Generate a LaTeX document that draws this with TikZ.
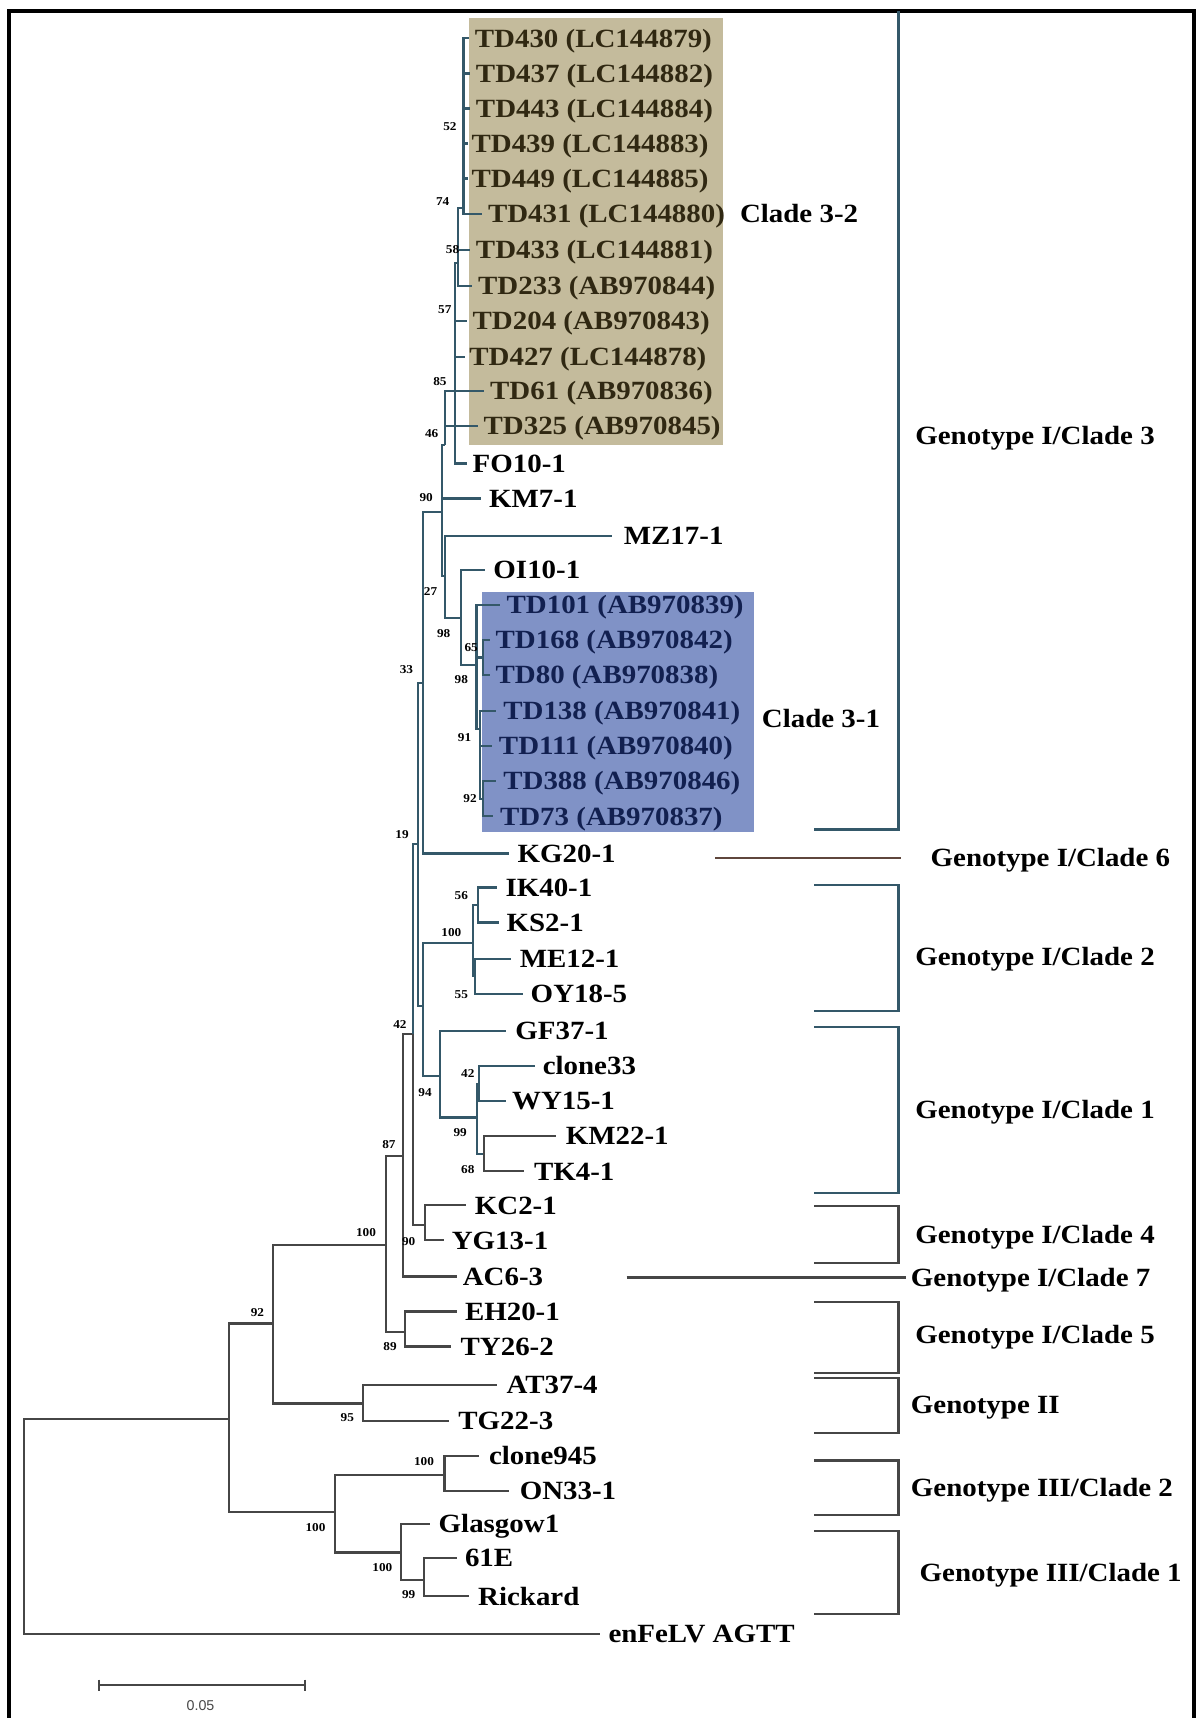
\documentclass[tikz,border=0pt]{standalone}
\usepackage{fontspec}
\setmainfont{Liberation Serif}[FakeStretch=1.1]
\newfontfamily\sansf{Liberation Sans}
\definecolor{upl}{RGB}{52,88,105}
\definecolor{lowl}{RGB}{70,70,70}
\definecolor{beigebg}{RGB}{196,187,156}
\definecolor{bluebg}{RGB}{128,146,198}
\definecolor{beigetxt}{RGB}{48,40,18}
\definecolor{bluetxt}{RGB}{18,32,80}
\newcommand{\myleaf}[6][]{%
  \coordinate (#2) at (#3,#4);
  \node[leaf,#1] (L#2) at (#5,#4) {#6};}
\begin{document}
\begin{tikzpicture}[x=0.5pt,y=-0.5pt,
  br/.style={line width=1pt, draw=lowl},
  bru/.style={line width=1pt, draw=upl},
  leaf/.style={anchor=base west, inner sep=0pt, yshift=-4pt, font=\bfseries\fontsize{12}{12}\selectfont},
  bs/.style={inner sep=0pt, font=\bfseries\fontsize{5.5}{5.5}\selectfont},
  grp/.style={anchor=base west, inner sep=0pt, yshift=-4pt, font=\bfseries\fontsize{12}{12}\selectfont},
  bracket/.style={line width=1pt, draw=lowl},
  brackU/.style={line width=1pt, draw=upl},
  bt/.style={text=beigetxt}, bl/.style={text=bluetxt}]
\useasboundingbox (0,0) rectangle (1093,1568);
\fill[white] (0,0) rectangle (1093,1568);
% highlight boxes
\fill[beigebg] (428,16) rectangle (660,406);
\fill[bluebg] (440,540) rectangle (688,759);
% frame
\draw[line width=1.8pt] (8,1568) -- (8,10) -- (1090,10) -- (1090,1568);

% internal nodes
\coordinate (root) at (22,1393);
\coordinate (n209) at (209,1295);
\coordinate (n249) at (249,1208);
\coordinate (n95) at (331,1281);
\coordinate (n306) at (306,1380);
\coordinate (n405) at (405.6,1346);
\coordinate (n366) at (366,1417);
\coordinate (n387) at (387,1442);
\coordinate (nG) at (352,1136);
\coordinate (n89) at (370,1216);
\coordinate (n87) at (368,1055);
\coordinate (n42) at (377,944);
\coordinate (n90) at (388,1118);
\coordinate (n19) at (381.5,770);
\coordinate (nE) at (386.3,918);
\coordinate (nC2) at (431.5,861);
\coordinate (n56) at (436.5,826);
\coordinate (n55) at (433.5,891);
\coordinate (n94) at (401.5,982);
\coordinate (n99) at (435,1020);
\coordinate (n42b) at (437.5,989);
\coordinate (n68) at (441.4,1053);
\coordinate (nH) at (386,623);
\coordinate (n90a) at (403.5,467);
\coordinate (n27) at (406,526);
\coordinate (n98a) at (421,564);
\coordinate (n98b) at (434.9,607);
\coordinate (n65) at (441,600);
\coordinate (n91) at (438,665);
\coordinate (n92) at (441,729);
\coordinate (n46) at (406,406);
\coordinate (n57) at (415.5,389);
\coordinate (n58) at (418,240);
\coordinate (n52) at (423,190);

% leaves: name, line end x, y, label x, text
\myleaf[bt]{td430}{428}{35}{433}{TD430 (LC144879)}
\myleaf[bt]{td437}{429}{67}{434}{TD437 (LC144882)}
\myleaf[bt]{td443}{429}{99}{434}{TD443 (LC144884)}
\myleaf[bt]{td439}{427}{131}{430}{TD439 (LC144883)}
\myleaf[bt]{td449}{427}{163}{430}{TD449 (LC144885)}
\myleaf[bt]{td431}{440}{195}{445}{TD431 (LC144880)}
\myleaf[bt]{td433}{429}{228}{434}{TD433 (LC144881)}
\myleaf[bt]{td233}{431}{261}{436}{TD233 (AB970844)}
\myleaf[bt]{td204}{426}{293}{431}{TD204 (AB970843)}
\myleaf[bt]{td427}{424}{326}{428}{TD427 (LC144878)}
\myleaf[bt]{td61}{442}{357}{447}{TD61 (AB970836)}
\myleaf[bt]{td325}{436}{389}{441}{TD325 (AB970845)}
\myleaf{fo10}{426}{423}{431}{FO10-1}
\myleaf{km7}{439}{455}{446}{KM7-1}
\myleaf{mz17}{559}{489}{569}{MZ17-1}
\myleaf{oi10}{443}{520}{450}{OI10-1}
\myleaf[bl]{td101}{456}{552}{462}{TD101 (AB970839)}
\myleaf[bl]{td168}{447}{584}{452}{TD168 (AB970842)}
\myleaf[bl]{td80}{447}{616}{452}{TD80 (AB970838)}
\myleaf[bl]{td138}{453}{649}{459}{TD138 (AB970841)}
\myleaf[bl]{td111}{449}{681}{455}{TD111 (AB970840)}
\myleaf[bl]{td388}{453}{713}{459}{TD388 (AB970846)}
\myleaf[bl]{td73}{450}{745}{456}{TD73 (AB970837)}
\myleaf{kg20}{465}{779}{472}{KG20-1}
\myleaf{ik40}{454}{810}{461}{IK40-1}
\myleaf{ks2}{455}{842}{462}{KS2-1}
\myleaf{me12}{466}{875}{474}{ME12-1}
\myleaf{oy18}{477}{907}{484}{OY18-5}
\myleaf{gf37}{462}{941}{470}{GF37-1}
\myleaf{c33}{488}{973}{495}{clone33}
\myleaf{wy15}{462}{1005}{467}{WY15-1}
\myleaf{km22}{507}{1037}{516}{KM22-1}
\myleaf{tk4}{478}{1069}{487}{TK4-1}
\myleaf{kc2}{425}{1100}{433}{KC2-1}
\myleaf{yg13}{405}{1132}{412}{YG13-1}
\myleaf{ac6}{417}{1165}{422}{AC6-3}
\myleaf{eh20}{417}{1197}{424}{EH20-1}
\myleaf{ty26}{412}{1229}{420}{TY26-2}
\myleaf{at37}{454}{1264}{462}{AT37-4}
\myleaf{tg22}{410}{1297}{418}{TG22-3}
\myleaf{c945}{437}{1329}{446}{clone945}
\myleaf{on33}{465}{1361}{474}{ON33-1}
\myleaf{glas}{392}{1391}{400}{Glasgow1}
\myleaf{e61}{417}{1422}{424}{61E}
\myleaf{rick}{428}{1457}{436}{Rickard}
\myleaf{enf}{548}{1491}{555}{enFeLV AGTT}

% branches, lower part
\draw[br] (root) |- (n209);
\draw[br] (root) |- (enf);
\draw[br] (n209) |- (n249);
\draw[br] (n209) |- (n306);
\draw[br] (n249) |- (nG);
\draw[br] (n249) |- (n95);
\draw[br] (n95) |- (at37);
\draw[br] (n95) |- (tg22);
\draw[br] (n306) |- (n405);
\draw[br] (n306) |- (n366);
\draw[br] (n405) |- (c945);
\draw[br] (n405) |- (on33);
\draw[br] (n366) |- (glas);
\draw[br] (n366) |- (n387);
\draw[br] (n387) |- (e61);
\draw[br] (n387) |- (rick);
\draw[br] (nG) |- (n87);
\draw[br] (nG) |- (n89);
\draw[br] (n89) |- (eh20);
\draw[br] (n89) |- (ty26);
\draw[br] (n87) |- (n42);
\draw[br] (n87) |- (ac6);
\draw[br] (n42) |- (n90);
\draw[br] (n90) |- (kc2);
\draw[br] (n90) |- (yg13);
% branches, upper part
\draw[bru] (n42) |- (n19);
\draw[bru] (n19) |- (nH);
\draw[bru] (n19) |- (nE);
\draw[bru] (nE) |- (nC2);
\draw[bru] (nE) |- (n94);
\draw[bru] (nC2) |- (n56);
\draw[bru] (nC2) |- (n55);
\draw[bru] (n56) |- (ik40);
\draw[bru] (n56) |- (ks2);
\draw[bru] (n55) |- (me12);
\draw[bru] (n55) |- (oy18);
\draw[bru] (n94) |- (gf37);
\draw[bru] (n94) |- (n99);
\draw[bru] (n99) |- (n42b);
\draw[bru] (n99) |- (n68);
\draw[bru] (n42b) |- (c33);
\draw[bru] (n42b) |- (wy15);
\draw[br] (n68) |- (km22);
\draw[br] (n68) |- (tk4);
\draw[bru] (nH) |- (n90a);
\draw[bru] (nH) |- (kg20);
\draw[bru] (n90a) |- (n46);
\draw[bru] (n90a) |- (km7);
\draw[bru] (n90a) |- (n27);
\draw[bru] (n27) |- (mz17);
\draw[bru] (n27) |- (n98a);
\draw[bru] (n98a) |- (oi10);
\draw[bru] (n98a) |- (n98b);
\draw[bru] (n98b) |- (td101);
\draw[bru] (n98b) |- (n65);
\draw[bru] (n98b) |- (n91);
\draw[bru] (n65) |- (td168);
\draw[bru] (n65) |- (td80);
\draw[bru] (n91) |- (td138);
\draw[bru] (n91) |- (td111);
\draw[bru] (n91) |- (n92);
\draw[bru] (n92) |- (td388);
\draw[bru] (n92) |- (td73);
\draw[bru] (n46) |- (td61);
\draw[bru] (n46) |- (n57);
\draw[bru] (n57) |- (n58);
\draw[bru] (n57) |- (td204);
\draw[bru] (n57) |- (td427);
\draw[bru] (n57) |- (td325);
\draw[bru] (n57) |- (fo10);
\draw[bru] (n58) |- (n52);
\draw[bru] (n58) |- (td433);
\draw[bru] (n58) |- (td233);
\draw[bru] (n52) |- (td430);
\draw[bru] (n52) |- (td437);
\draw[bru] (n52) |- (td443);
\draw[bru] (n52) |- (td439);
\draw[bru] (n52) |- (td449);
\draw[bru] (n52) |- (td431);

% bootstrap values
\node[bs] (b1) at (410.6,115.6) {52};
\node[bs] (b2) at (404,184) {74};
\node[bs] (b3) at (413,228) {58};
\node[bs] (b4) at (406,283) {57};
\node[bs] (b5) at (401.5,348) {85};
\node[bs] (b6) at (394,396) {46};
\node[bs] (b7) at (389,454.5) {90};
\node[bs] (b8) at (393,540) {27};
\node[bs] (b9) at (405,578) {98};
\node[bs] (b10) at (371,611) {33};
\node[bs] (b11) at (430,591) {65};
\node[bs] (b12) at (421,620) {98};
\node[bs] (b13) at (424,673) {91};
\node[bs] (b14) at (429,729) {92};
\node[bs] (b15) at (367,762) {19};
\node[bs] (b16) at (421,817) {56};
\node[bs] (b17) at (412,851) {100};
\node[bs] (b18) at (421,908) {55};
\node[bs] (b19) at (365,935) {42};
\node[bs] (b20) at (427,980) {42};
\node[bs] (b21) at (388,997) {94};
\node[bs] (b22) at (420,1034) {99};
\node[bs] (b23) at (355,1045) {87};
\node[bs] (b24) at (427,1067.5) {68};
\node[bs] (b25) at (334,1125) {100};
\node[bs] (b26) at (373,1133) {90};
\node[bs] (b27) at (235,1198) {92};
\node[bs] (b28) at (356,1229) {89};
\node[bs] (b29) at (317,1294) {95};
\node[bs] (b30) at (387,1334) {100};
\node[bs] (b31) at (288,1394) {100};
\node[bs] (b32) at (349,1431) {100};
\node[bs] (b33) at (373,1455) {99};

% clade labels inside
\node[grp] (cl32) at (675,195) {Clade 3-2};
\node[grp] (cl31) at (695,656) {Clade 3-1};

% right-hand brackets
\draw[brackU] (743,757) -- (820,757) -- (820,10);
\draw[line width=1pt, draw={rgb,255:red,95;green,70;blue,60}] (653,783) -- (822,783);
\draw[brackU] (743,808) -- (820,808) -- (820,923) -- (743,923);
\draw[brackU] (743,937) -- (820,937) -- (820,1089) -- (743,1089);
\draw[bracket] (743,1101) -- (820,1101) -- (820,1153) -- (743,1153);
\draw[bracket] (572,1166) -- (827,1166);
\draw[bracket] (743,1188) -- (820,1188) -- (820,1253) -- (743,1253);
\draw[bracket] (743,1258) -- (820,1258) -- (820,1308) -- (743,1308);
\draw[bracket] (743,1333) -- (820,1333) -- (820,1383) -- (743,1383);
\draw[bracket] (743,1397) -- (820,1397) -- (820,1473) -- (743,1473);

\node[grp] (g13) at (835,398) {Genotype I/Clade 3};
\node[grp] (g16) at (849,783) {Genotype I/Clade 6};
\node[grp] (g12) at (835,873) {Genotype I/Clade 2};
\node[grp] (g11) at (835,1013) {Genotype I/Clade 1};
\node[grp] (g14) at (835,1127) {Genotype I/Clade 4};
\node[grp] (g17) at (831,1166) {Genotype I/Clade 7};
\node[grp] (g15) at (835,1218) {Genotype I/Clade 5};
\node[grp] (g2) at (831,1282) {Genotype II};
\node[grp] (g32) at (831,1358) {Genotype III/Clade 2};
\node[grp] (g31) at (839,1435) {Genotype III/Clade 1};

% scale bar
\draw[line width=1pt, draw=lowl] (90,1533) -- (90,1543) (90,1538) -- (278,1538) (278,1533) -- (278,1543);
\node[inner sep=0pt, text=lowl, font=\sansf\fontsize{6.5}{6.5}\selectfont] (sc) at (183,1557) {0.05};
\end{tikzpicture}
\end{document}
